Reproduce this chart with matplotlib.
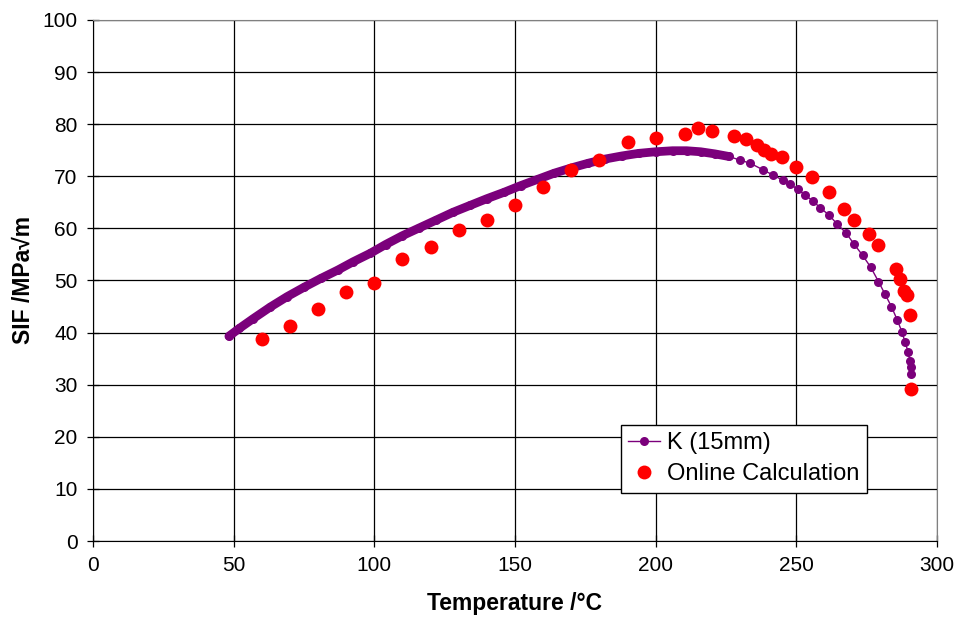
import matplotlib.pyplot as plt
import numpy as np

plt.rcParams['font.family'] = ['Liberation Sans', 'DejaVu Sans']

# K (15mm) curve
k_temp = [48.3, 52, 57, 63, 69, 75, 81, 87, 92.5, 98.5, 104, 110, 116, 122,
          128, 134, 140, 146, 152, 158, 164, 170, 176, 182, 188, 194, 200,
          206, 211, 216, 221, 226, 230, 233.6, 238.3, 241.8, 245.4, 247.8,
          250.5, 253.1, 255.8, 258.4, 261.5, 264.6, 267.7, 270.5, 273.6,
          276.5, 279.2, 281.5, 283.8, 285.9, 287.5, 288.7, 289.8, 290.4,
          290.7, 290.8]
k_sif = [39.3, 40.8, 42.7, 44.9, 46.9, 48.7, 50.4, 52.0, 53.6, 55.2, 56.9,
         58.6, 60.1, 61.6, 63.1, 64.4, 65.7, 66.9, 68.2, 69.4, 70.6, 71.6,
         72.5, 73.3, 73.9, 74.4, 74.7, 74.9, 74.9, 74.7, 74.3, 73.8, 73.1,
         72.5, 71.2, 70.2, 69.2, 68.5, 67.5, 66.4, 65.3, 64.0, 62.6, 60.8,
         59.1, 57.0, 54.8, 52.5, 49.8, 47.4, 45.0, 42.4, 40.2, 38.1, 36.2,
         34.5, 33.3, 32.1]

# Online calculation points
online_temp = [60.1, 70, 80, 90, 100, 110, 120, 130, 140, 150, 160, 170,
               180, 190, 200, 210.5, 215, 220, 228, 232, 236, 238.5, 241,
               245, 250, 255.5, 261.5, 267, 270.5, 276, 279, 285.5, 287,
               288.3, 289.4, 290.4, 290.8]
online_sif = [38.8, 41.3, 44.5, 47.8, 49.5, 54.1, 56.4, 59.7, 61.6, 64.5,
              68.0, 71.2, 73.1, 76.6, 77.4, 78.1, 79.3, 78.7, 77.7, 77.2,
              76.0, 75.0, 74.3, 73.7, 71.8, 69.9, 67.0, 63.7, 61.6, 58.9,
              56.8, 52.2, 50.3, 48.0, 47.2, 43.4, 29.2]

purple = '#7B007B'

fig = plt.figure(figsize=(9.61, 6.23), dpi=100)
ax = fig.add_axes([0.0968, 0.1316, 0.8782, 0.8364])

# dense part of the K series draws as a solid band of overlapping dots
kt = np.array(k_temp)
ks = np.array(k_sif)
dense = kt <= 228
ax.plot(kt[dense], ks[dense], color=purple, lw=6.3, solid_capstyle='round',
        zorder=3)
ax.plot(k_temp, k_sif, color=purple, lw=1, marker='o', ms=6.5,
        markeredgewidth=0, label='K (15mm)', zorder=4)
ax.plot(online_temp, online_sif, ls='none', marker='o', ms=10, color='red',
        markeredgewidth=0, label='Online Calculation', zorder=5)

ax.set_xlim(0, 300)
ax.set_ylim(0, 100)
ax.set_xticks(np.arange(0, 301, 50))
ax.set_yticks(np.arange(0, 101, 10))
ax.grid(True, color='black', lw=0.9)
ax.set_axisbelow(True)
for side in ['top', 'right']:
    ax.spines[side].set_color('#808080')
for side in ['left', 'bottom']:
    ax.spines[side].set_color('black')
ax.tick_params(direction='inout', length=8, width=0.9, labelsize=15,
               pad=7)

ax.set_xlabel('Temperature /°C', fontsize=16.5, fontweight='bold', labelpad=12)
ax.set_ylabel('SIF /MPa√m', fontsize=16.5, fontweight='bold', labelpad=6)

leg = ax.legend(loc='lower left', bbox_to_anchor=(0.626, 0.093), fontsize=17,
                frameon=True, fancybox=False, framealpha=1, borderpad=0.3,
                handlelength=1.35, handletextpad=0.3, labelspacing=0.4,
                borderaxespad=0)
leg.get_frame().set_edgecolor('black')
leg.get_frame().set_linewidth(1)

fig.savefig('out.png')
